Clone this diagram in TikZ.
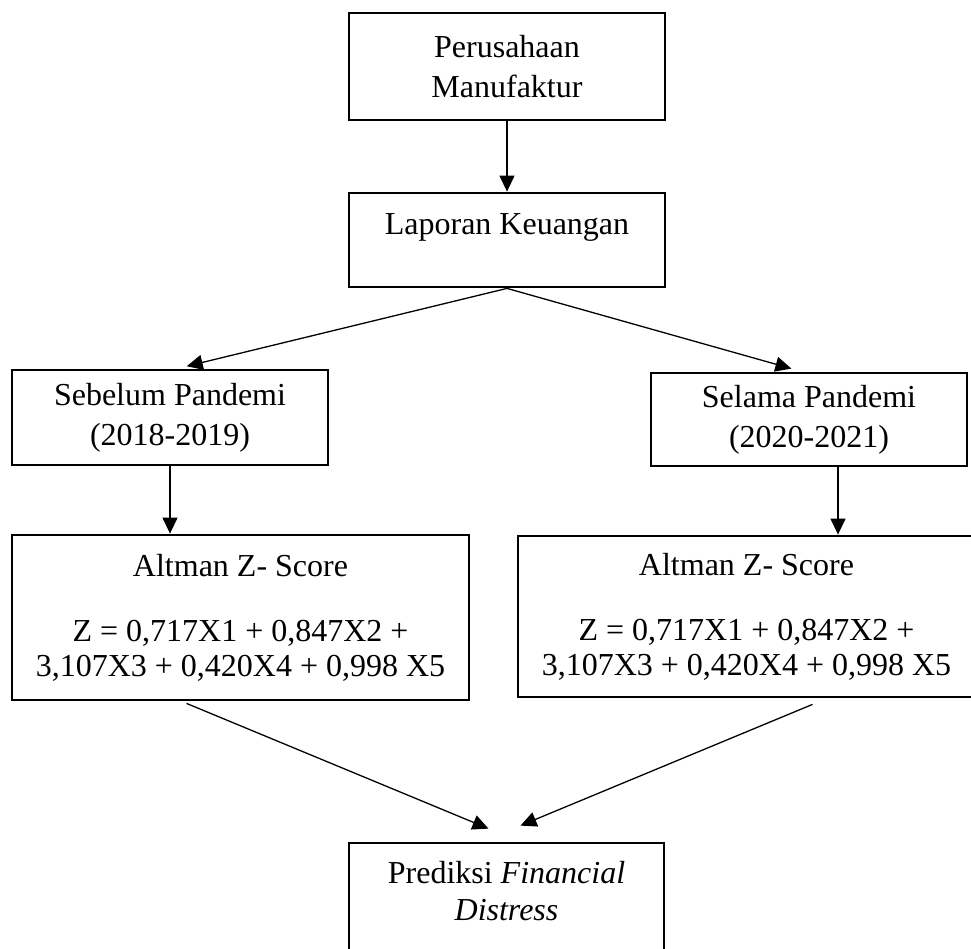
\documentclass[tikz,border=0pt]{standalone}
\usepackage{fontspec}
\setmainfont{Liberation Serif}
\usepackage{tikz}
\usetikzlibrary{arrows.meta, positioning}

\begin{document}
\begin{tikzpicture}[
    x=1pt, y=1pt,
    box/.style={rectangle, draw, line width=2.8pt, minimum width=316pt, align=center,
        font=\fontsize{32}{40}\selectfont},
    zbox/.style={box, minimum width=457pt, font=\fontsize{32}{35}\selectfont},
    arrow/.style={-{Triangle[length=16pt, width=15pt]}, line width=1.3pt}
]
\useasboundingbox (0,0) rectangle (971,-949);

\node[box, minimum height=107pt] (perusahaan) at (507,-66.5) {Perusahaan\\ Manufaktur};
\node[box, minimum height=94pt] (laporan) at (507,-240) {Laporan Keuangan\\[-8pt]\mbox{}};

\node[box, minimum height=95pt] (sebelum) at (170,-417.5) {Sebelum Pandemi\\ (2018-2019)};
\node[box, minimum height=93pt] (selama) at (809,-419.5) {Selama Pandemi\\ (2020-2021)};

\node[zbox, minimum height=165pt] (zsebelum) at (240.5,-617.5)
    {Altman Z- Score\\[30pt] Z = 0,717X1 + 0,847X2 +\\ 3,107X3 + 0,420X4 + 0,998 X5};
\node[zbox, minimum height=161pt] (zselama) at (746.5,-616.5)
    {Altman Z- Score\\[30pt] Z = 0,717X1 + 0,847X2 +\\ 3,107X3 + 0,420X4 + 0,998 X5};

\node[box, minimum width=315pt, minimum height=120pt, font=\fontsize{32}{37}\selectfont] (prediksi) at (506.5,-903)
    {Prediksi \textit{Financial}\\ \textit{Distress}\\[-12pt]\mbox{}};

\draw[arrow] (perusahaan) -- (laporan);
\draw[arrow, shorten >=10pt] (laporan.south) -- ([xshift=7pt]sebelum.north);
\draw[arrow, shorten >=11pt] (laporan.south) -- ([xshift=-7pt]selama.north);
\draw[arrow] (sebelum.south) -- (sebelum.south |- zsebelum.north);
\draw[arrow] ([xshift=29pt]selama.south) -- ([xshift=29pt]selama.south |- zselama.north);
\draw[arrow] ([xshift=-54pt, yshift=-2pt]zsebelum.south) -- ([xshift=-18pt, yshift=13pt]prediksi.north);
\draw[arrow] ([xshift=66pt, yshift=-6pt]zselama.south) -- ([xshift=14pt, yshift=16pt]prediksi.north);

\end{tikzpicture}
\end{document}
